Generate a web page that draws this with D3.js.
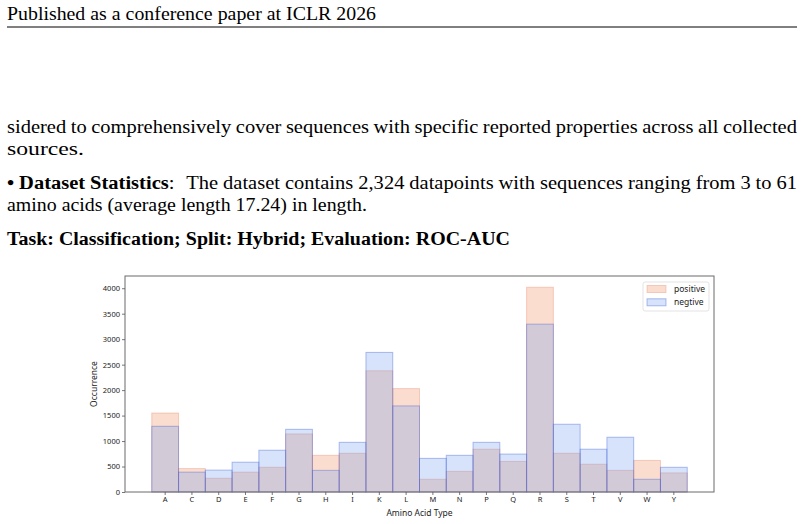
<!DOCTYPE html>
<html>
<head>
<meta charset="utf-8">
<script src="https://cdn.jsdelivr.net/npm/d3@7"></script>
<style>
    body { margin: 0; background: #fff; }
    #page { width: 804px; height: 524px; }
</style>
</head>
<body>
<div id="page"></div>
<script>

// page text
let headerText = "Published as a conference paper at ICLR 2026";
let paraLines = [
    "sidered to comprehensively cover sequences with specific reported properties across all collected",
    "sources."
];
let statsLine = "The dataset contains 2,324 datapoints with sequences ranging from 3 to 61";
let statsLine2 = "amino acids (average length 17.24) in length.";
let taskLine = "Task: Classification; Split: Hybrid; Evaluation: ROC-AUC";

// chart data
let aminoAcids = ["A", "C", "D", "E", "F", "G", "H", "I", "K", "L", "M", "N", "P", "Q", "R", "S", "T", "V", "W", "Y"];
let positiveCounts = [1550, 460, 270, 390, 485, 1140, 720, 760, 2380, 2030, 250, 405, 840, 600, 4020, 760, 545, 425, 620, 375];
let negativeCounts = [1290, 390, 430, 585, 820, 1230, 425, 975, 2740, 1690, 660, 720, 975, 745, 3295, 1330, 840, 1075, 250, 485];
let yTicks = [0, 500, 1000, 1500, 2000, 2500, 3000, 3500, 4000];
let legendLabels = ["positive", "negtive"];

let svg = d3.select("#page").append("svg")
    .attr("width", 804)
    .attr("height", 524);

/* ---------- page text ---------- */

let serif = "'Liberation Serif', 'Times New Roman', serif";
let textSize = 19;

// measure a piece of text
function measure(str, bold) {
    let t = svg.append("text")
        .attr("font-family", serif)
        .attr("font-size", textSize)
        .attr("font-weight", bold ? "bold" : "normal")
        .attr("xml:space", "preserve")
        .text(str);
    let w = t.node().getComputedTextLength();
    t.remove();
    return w;
}

// words: [{t, b, gap}] ; lays words between x0 and x0 + width
function drawLine(words, x0, y, width, justify, sx) {
    let space = measure("n n", false) - 2 * measure("n", false);
    words.forEach(w => w.w = measure(w.t, w.b));
    let sumW = d3.sum(words, w => w.w);
    let sumGap = d3.sum(words.slice(1), w => w.gap === undefined ? 1 : w.gap);

    let scale, gapUnit;
    if (justify) {
        scale = sx;
        gapUnit = (width - sumW * scale) / sumGap;
    } else {
        scale = width / (sumW + sumGap * space);
        gapUnit = space * scale;
    }

    let x = x0;
    words.forEach((w, i) => {
        if (i > 0) x += gapUnit * (w.gap === undefined ? 1 : w.gap);
        svg.append("text")
            .attr("transform", `translate(${x}, ${y}) scale(${scale}, 1)`)
            .attr("font-family", serif)
            .attr("font-size", textSize)
            .attr("font-weight", w.b ? "bold" : "normal")
            .attr("fill", "#000")
            .text(w.t);
        x += w.w * scale;
    });
    return scale;
}

function toWords(str, bold) {
    return str.split(" ").map(t => ({t: t, b: bold}));
}

let left = 7, right = 797;

let s1 = drawLine(toWords(headerText, false), left, 19.5, 376 - left, false);
svg.append("line")
    .attr("x1", left).attr("x2", right)
    .attr("y1", 27).attr("y2", 27)
    .attr("stroke", "#000")
    .attr("stroke-width", 1);

let s2 = drawLine(toWords(paraLines[1], false), left, 155, 84 - left, false);
let s3 = drawLine(toWords(statsLine2, false), left, 211, 367 - left, false);
// justified lines are set a little tighter so the word gaps open up
let sx = (s1 + s2 + s3) / 3 * 0.97;

drawLine(toWords(paraLines[0], false), left, 133, right - left, true, sx);

let statsWords = [{t: "•", b: true}, {t: "Dataset", b: true}, {t: "Statistics", b: true}, {t: ":", b: false, gap: 0}];
let rest = toWords(statsLine, false);
rest[0].gap = 2.4;
drawLine(statsWords.concat(rest), left, 189, right - left, true, sx);

drawLine(toWords(taskLine, true), left, 245, 510 - left, false);

/* ---------- histogram ---------- */

let plot = {left: 125, right: 714, top: 276, bottom: 492};

let x = d3.scaleBand()
    .domain(aminoAcids)
    .range([plot.left, plot.right])
    .paddingInner(0)
    .paddingOuter(1);

let y = d3.scaleLinear()
    .domain([0, 4240])
    .range([plot.bottom, plot.top]);

let chart = svg.append("g");

let posFill = "#f4a582", posEdge = "#e0704e";
let negFill = "#6d9bf0", negEdge = "#3f5fd6";

chart.selectAll("rect.pos")
    .data(aminoAcids)
    .enter().append("rect")
    .attr("class", "pos")
    .attr("x", d => x(d))
    .attr("y", (d, i) => y(positiveCounts[i]))
    .attr("width", x.bandwidth())
    .attr("height", (d, i) => y(0) - y(positiveCounts[i]))
    .attr("fill", posFill)
    .attr("fill-opacity", 0.38)
    .attr("stroke", posEdge)
    .attr("stroke-opacity", 0.3)
    .attr("stroke-width", 1);

chart.selectAll("rect.neg")
    .data(aminoAcids)
    .enter().append("rect")
    .attr("class", "neg")
    .attr("x", d => x(d))
    .attr("y", (d, i) => y(negativeCounts[i]))
    .attr("width", x.bandwidth())
    .attr("height", (d, i) => y(0) - y(negativeCounts[i]))
    .attr("fill", negFill)
    .attr("fill-opacity", 0.28)
    .attr("stroke", negEdge)
    .attr("stroke-opacity", 0.4)
    .attr("stroke-width", 1);

// frame
chart.append("rect")
    .attr("x", plot.left)
    .attr("y", plot.top)
    .attr("width", plot.right - plot.left)
    .attr("height", plot.bottom - plot.top)
    .attr("fill", "none")
    .attr("stroke", "#6b6b6b")
    .attr("stroke-width", 1);

let sans = "'Noto Sans', 'Open Sans', sans-serif";

let xAxis = d3.axisBottom(x).tickSize(3).tickPadding(2);
let yAxis = d3.axisLeft(y).tickValues(yTicks).tickFormat(d3.format("d")).tickSize(3).tickPadding(2);

let xg = chart.append("g")
    .attr("transform", `translate(0, ${plot.bottom})`)
    .call(xAxis);
let yg = chart.append("g")
    .attr("transform", `translate(${plot.left}, 0)`)
    .call(yAxis);

[xg, yg].forEach(g => {
    g.select(".domain").remove();
    g.selectAll(".tick line").attr("stroke", "#555").attr("stroke-width", 0.8);
    g.selectAll(".tick text")
        .attr("font-family", sans)
        .attr("font-size", 7.5)
        .attr("fill", "#222");
});

chart.append("text")
    .attr("x", (plot.left + plot.right) / 2)
    .attr("y", 516)
    .attr("text-anchor", "middle")
    .attr("font-family", sans)
    .attr("font-size", 8.5)
    .attr("fill", "#222")
    .text("Amino Acid Type");

chart.append("text")
    .attr("transform", `translate(97, ${(plot.top + plot.bottom) / 2}) rotate(-90)`)
    .attr("text-anchor", "middle")
    .attr("font-family", sans)
    .attr("font-size", 8.5)
    .attr("fill", "#222")
    .text("Occurrence");

// legend
let legend = chart.append("g").attr("transform", "translate(643, 282)");
legend.append("rect")
    .attr("width", 66)
    .attr("height", 29)
    .attr("rx", 2)
    .attr("fill", "#fff")
    .attr("fill-opacity", 0.8)
    .attr("stroke", "#dcdcdc")
    .attr("stroke-width", 0.8);

let legendColors = [[posFill, posEdge, 0.38, 0.3], [negFill, negEdge, 0.28, 0.4]];
legendLabels.forEach((lab, i) => {
    let row = legend.append("g").attr("transform", `translate(4, ${3.5 + i * 13.3})`);
    row.append("rect")
        .attr("width", 19)
        .attr("height", 7)
        .attr("fill", legendColors[i][0])
        .attr("fill-opacity", legendColors[i][2])
        .attr("stroke", legendColors[i][1])
        .attr("stroke-opacity", legendColors[i][3])
        .attr("stroke-width", 1);
    row.append("text")
        .attr("x", 27)
        .attr("y", 6.5)
        .attr("font-family", sans)
        .attr("font-size", 8.5)
        .attr("fill", "#222")
        .text(lab);
});

</script>
</body>
</html>
